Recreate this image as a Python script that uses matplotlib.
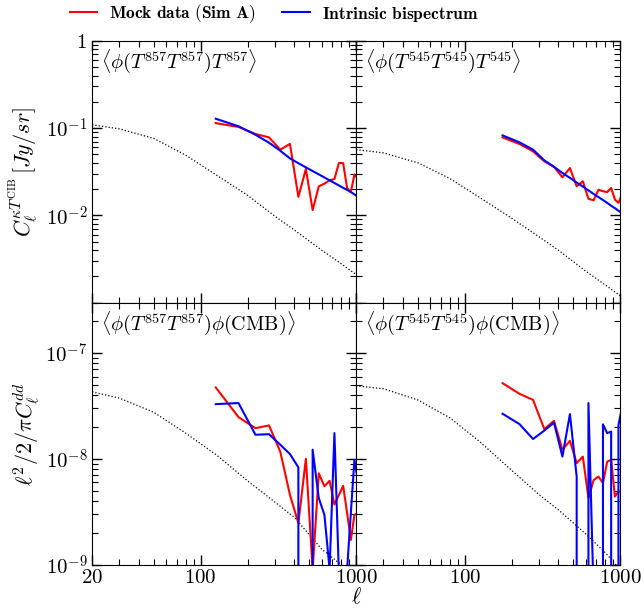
import matplotlib
matplotlib.use("Agg")
import matplotlib.pyplot as plt
from matplotlib.lines import Line2D
from matplotlib.ticker import FixedLocator, FixedFormatter, LogLocator, NullFormatter

plt.rcParams['font.family'] = 'serif'
plt.rcParams['font.serif'] = ['cmr10', 'DejaVu Serif']
plt.rcParams['mathtext.fontset'] = 'cm'
plt.rcParams['axes.unicode_minus'] = False

# bin centres
ell_left = [125, 175, 225, 275, 325, 375, 425, 475, 525, 575, 625, 675, 725, 775, 825, 875, 925, 975, 1025]
ell_right = [175, 225, 275, 325, 375, 425, 475, 525, 575, 625, 675, 725, 775, 825, 875, 925, 975, 1025]
ell_theory = [20, 30, 50, 80, 125, 200, 300, 400, 600, 800, 1000]

# top row: kappa x CIB
mock_857 = [0.114, 0.103, 0.0856, 0.0783, 0.0566, 0.066, 0.0163, 0.034, 0.0115, 0.0215,
            0.0231, 0.0252, 0.0261, 0.0399, 0.0397, 0.0205, 0.0185, 0.0293, 0.0265]
intr_857 = [0.128, 0.105, 0.084, 0.068, 0.055, 0.045, 0.0396, 0.0355, 0.0322, 0.0295,
            0.0272, 0.0252, 0.0235, 0.022, 0.0207, 0.0196, 0.0185, 0.0174, 0.0164]
theory_857 = [0.109, 0.098, 0.076, 0.049, 0.0293, 0.017, 0.0098, 0.0068, 0.004, 0.0028, 0.0021]

mock_545 = [0.0783, 0.0657, 0.0542, 0.0416, 0.036, 0.0273, 0.0349, 0.0215, 0.0246,
            0.0155, 0.0149, 0.0197, 0.0189, 0.0185, 0.0206, 0.0152, 0.0139, 0.0173]
intr_545 = [0.0825, 0.0687, 0.0566, 0.0427, 0.036, 0.0306, 0.0269, 0.0238, 0.0214,
            0.0193, 0.0176, 0.0162, 0.015, 0.0139, 0.0129, 0.0121, 0.0113, 0.0107]
theory_545 = [0.0566, 0.052, 0.04, 0.0265, 0.016, 0.0093, 0.0057, 0.004, 0.0023, 0.0016, 0.0012]

# bottom row: phi x CMB lensing
mock_857_cmb = [4.73e-8, 2.48e-8, 1.95e-8, 2.07e-8, 1.17e-8, 4.56e-9, 2.47e-9, 1.0e-8, 9e-10, 7.3e-9,
                5.5e-9, 6.2e-9, 3.7e-9, 4.56e-9, 5.56e-9, 3.06e-9, 1.71e-9, 2.95e-9, 3.06e-9]
intr_857_cmb = [3.29e-8, 3.37e-8, 1.69e-8, 1.71e-8, 1.36e-8, 1.11e-8, 8.3e-9, -5e-9, 1.22e-8, 4.25e-9,
                2.95e-9, 9e-10, 1.75e-8, 8e-10, -5e-9, 9e-10, 3.1e-9, 9.8e-9, 6.3e-9]
theory_857_cmb = [4.3e-8, 3.75e-8, 2.75e-8, 1.75e-8, 1.1e-8, 6.2e-9, 3.9e-9, 2.8e-9, 1.4e-9, 1.0e-9, 7.5e-10]

mock_545_cmb = [5.2e-8, 4.12e-8, 3.61e-8, 1.91e-8, 2.29e-8, 1.22e-8, 1.48e-8, 9.1e-9, 1.05e-8,
                4.25e-9, 6.3e-9, 6.8e-9, 5.9e-9, 9.4e-9, 9.8e-9, 4.4e-9, 4.9e-9, 4.9e-9]
intr_545_cmb = [2.67e-8, 2.13e-8, 1.54e-8, 1.85e-8, 2.2e-8, 1.05e-8, 2.65e-8, 6.8e-9, -5e-9,
                3.37e-8, 5e-10, -5e-9, 2.12e-8, 1.75e-8, 1.81e-8, -5e-9, 2.09e-8, 3.0e-8]
theory_545_cmb = [4.9e-8, 4.6e-8, 3.6e-8, 2.45e-8, 1.45e-8, 7.8e-9, 4.6e-9, 3.3e-9, 1.95e-9, 1.3e-9, 9e-10]

titles = [r'$\langle\phi(T^{857}T^{857})T^{857}\rangle$',
          r'$\langle\phi(T^{545}T^{545})T^{545}\rangle$',
          r'$\langle\phi(T^{857}T^{857})\phi(\mathrm{CMB})\rangle$',
          r'$\langle\phi(T^{545}T^{545})\phi(\mathrm{CMB})\rangle$']

fig, axes = plt.subplots(2, 2, figsize=(6.44, 6.09), dpi=100)
fig.subplots_adjust(left=0.143, right=0.963, top=0.933, bottom=0.073, wspace=0, hspace=0)

panels = [
    (axes[0, 0], ell_left, mock_857, intr_857, theory_857),
    (axes[0, 1], ell_right, mock_545, intr_545, theory_545),
    (axes[1, 0], ell_left, mock_857_cmb, intr_857_cmb, theory_857_cmb),
    (axes[1, 1], ell_right, mock_545_cmb, intr_545_cmb, theory_545_cmb),
]

for i, (ax, ell, mock, intr, th) in enumerate(panels):
    ax.set_xscale('log')
    ax.set_yscale('log', nonpositive='clip')
    ax.plot(ell_theory, th, color='black', ls=':', lw=0.9)
    ax.plot(ell, mock, color='red', lw=1.5)
    ax.plot(ell, intr, color='blue', lw=1.5)
    ax.set_xlim(20, 1000)
    if i < 2:
        ax.set_ylim(1e-3, 1)
    else:
        ax.set_ylim(1e-9, 3e-7)
    ax.text(0.035, 0.975, titles[i], transform=ax.transAxes, va='top', ha='left', fontsize=14.5)

    ax.xaxis.set_major_locator(FixedLocator([20, 100, 1000]))
    ax.xaxis.set_minor_locator(LogLocator(base=10, subs=range(2, 10)))
    ax.xaxis.set_minor_formatter(NullFormatter())
    if i == 2:
        ax.xaxis.set_major_formatter(FixedFormatter(['$20$', '$100$', '$1000$']))
    elif i == 3:
        ax.xaxis.set_major_formatter(FixedFormatter(['', '$100$', '$1000$']))
    else:
        ax.xaxis.set_major_formatter(NullFormatter())

    if i < 2:
        ax.yaxis.set_major_locator(FixedLocator([1e-3, 1e-2, 1e-1, 1]))
        ylabels = ['', '$10^{-2}$', '$10^{-1}$', '$1$']
    else:
        ax.yaxis.set_major_locator(FixedLocator([1e-9, 1e-8, 1e-7]))
        ylabels = ['$10^{-9}$', '$10^{-8}$', '$10^{-7}$']
    ax.yaxis.set_minor_locator(LogLocator(base=10, subs=range(2, 10)))
    ax.yaxis.set_minor_formatter(NullFormatter())
    if i % 2 == 0:
        ax.yaxis.set_major_formatter(FixedFormatter(ylabels))
    else:
        ax.yaxis.set_major_formatter(NullFormatter())

    ax.tick_params(which='both', direction='in', top=True, right=True, labelsize=15)
    ax.tick_params(which='major', length=7, width=1)
    ax.tick_params(which='minor', length=4, width=0.8)
    ax.tick_params(axis='x', pad=3)

axes[0, 0].set_ylabel(r'$C_\ell^{\kappa T^{\mathrm{CIB}}}\,[Jy/sr]$', fontsize=16, labelpad=4)
axes[1, 0].set_ylabel(r'$\ell^2/2/\pi C_\ell^{dd}$', fontsize=16, labelpad=2)
fig.text(356 / 644, 2 / 609, r'$\ell$', ha='center', va='bottom', fontsize=16)

handles = [Line2D([], [], color='red', lw=1.5), Line2D([], [], color='blue', lw=1.5)]
fig.legend(handles, [r'$\mathbf{Mock\ data\ (Sim\ A)}$', r'$\mathbf{Intrinsic\ bispectrum}$'],
           loc='center', bbox_to_anchor=(274 / 644, 1 - 14 / 609), ncol=2, frameon=False,
           fontsize=12.5, handlelength=1.6, handletextpad=0.7, columnspacing=1.5)

fig.savefig('out.png', dpi=100)
